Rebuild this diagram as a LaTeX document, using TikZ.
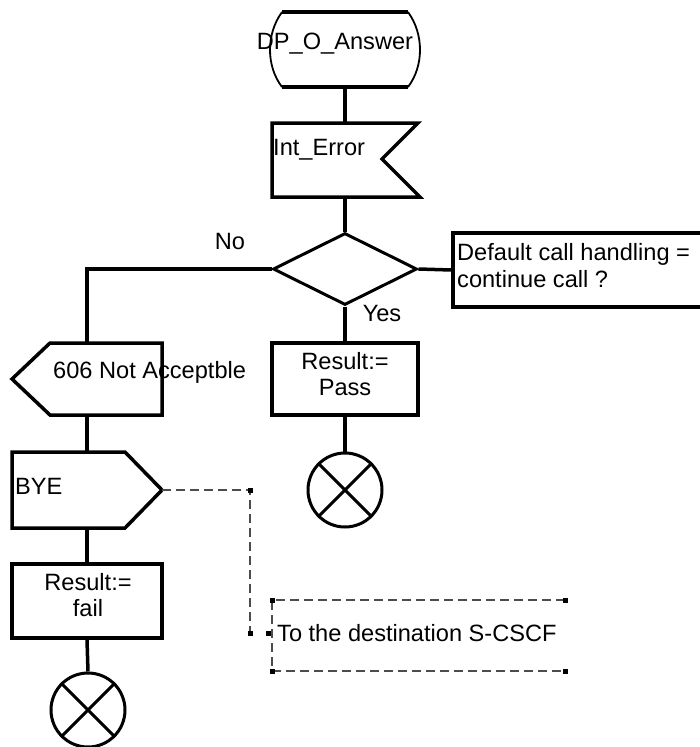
\documentclass[tikz,border=0pt]{standalone}
\usepackage{fontspec}
\setmainfont{Liberation Sans}
\usetikzlibrary{shapes.geometric}
\begin{document}
\begin{tikzpicture}[x=1pt,y=-1pt,
 symb/.style={minimum width=150pt,minimum height=74pt,inner sep=0pt},
 txt/.style={inner sep=0pt,font=\fontsize{23.6}{26.5}\selectfont,align=center},
 flow/.style={line width=3.5pt},
 stopsym/.style={circle,draw,line width=3pt,minimum size=74pt,inner sep=0pt},
 cmt/.style={line width=1.2pt,dash pattern=on 9pt off 5pt,black!70},
 dot/.style={fill=black,inner sep=0pt,minimum size=5pt}]
\useasboundingbox (0,0) rectangle (700,747);
% start
\node[symb,minimum width=146pt,minimum height=75pt] (start) at (345,49.5) {};
\draw[flow] (282,12) -- (408,12);
\draw[flow] (282,87) -- (408,87);
\draw[line width=1.8pt] (282,12) .. controls (266,34) and (266,66) .. (282,87);
\draw[line width=1.8pt] (408,12) .. controls (424,34) and (424,66) .. (408,87);
\node[txt] (startlbl) at (335,44) {DP\_O\_Answer};
% input
\node[symb,minimum width=146pt] (interr) at (345,160) {};
\draw[flow] (418,123) -- (272,123) -- (272,197) -- (420,197) -- (382,159) -- cycle;
\node[txt,anchor=west] (interrlbl) at (273,150) {Int\_Error};
% decision
\node[diamond,draw,line width=3pt,minimum width=144pt,minimum height=72pt,inner sep=0pt] (dec) at (345,269) {};
\node[draw,flow,minimum width=252pt,minimum height=74pt,inner sep=0pt] (cond) at (579,270) {};
\node[txt,anchor=west,align=left] (condlbl) at (457,265.5) {Default call handling =\\continue call ?};
\node[txt] (nolbl) at (230,241) {No};
\node[txt] (yeslbl) at (382,313) {Yes};
% yes branch
\node[symb,draw,flow,minimum width=146pt,minimum height=72pt] (pass) at (345,379) {};
\node[txt] (passlbl) at (345,374) {Result:=\\Pass};
\node[stopsym] (stop1) at (345,490) {};
\draw[line width=3pt] (stop1.north west) -- (stop1.south east);
\draw[line width=3pt] (stop1.north east) -- (stop1.south west);
% no branch
\node[symb,minimum height=72pt] (rej) at (87,379) {};
\draw[flow] (162,343) -- (50,343) -- (12,379) -- (50,415) -- (162,415) -- cycle;
\node[txt,anchor=west] (rejlbl) at (53,372) {606 Not Acceptble};
\node[symb,minimum height=76pt] (bye) at (87,490) {};
\draw[flow] (12,452) -- (125,452) -- (162,490) -- (125,528) -- (12,528) -- cycle;
\node[txt,anchor=west] (byelbl) at (15,486) {BYE};
\node[symb,draw,flow] (fail) at (87,601) {};
\node[txt] (faillbl) at (88,595) {Result:=\\fail};
\node[stopsym] (stop2) at (88,710) {};
\draw[line width=3pt] (stop2.north west) -- (stop2.south east);
\draw[line width=3pt] (stop2.north east) -- (stop2.south west);
% connectors
\draw[flow] (start.south) -- (interr.north);
\draw[flow] (interr.south) -- (dec.north);
\draw[flow] (dec.east) -- (cond.west);
\draw[flow] (dec.west) -| (rej.north);
\draw[flow] (dec.south) -- (pass.north);
\draw[flow] (pass.south) -- (stop1.north);
\draw[flow] (rej.south) -- (bye.north);
\draw[flow] (bye.south) -- (fail.north);
\draw[flow] (fail.south) -- (stop2.north);
% comment
\coordinate (bend) at (250,633);
\coordinate (notein) at (268,633);
\draw[cmt] (bye.east) -| (bend);
\draw[cmt] (565,600) -- (272,600) -- (272,671) -- (565,671);
\node[txt,anchor=west] (note) at (277,633) {To the destination S-CSCF};
\foreach \p in {(250,490),(bend),(notein),(272,600),(565,600),(272,671),(565,671)}
  \node[dot] at \p {};
\end{tikzpicture}
\end{document}
